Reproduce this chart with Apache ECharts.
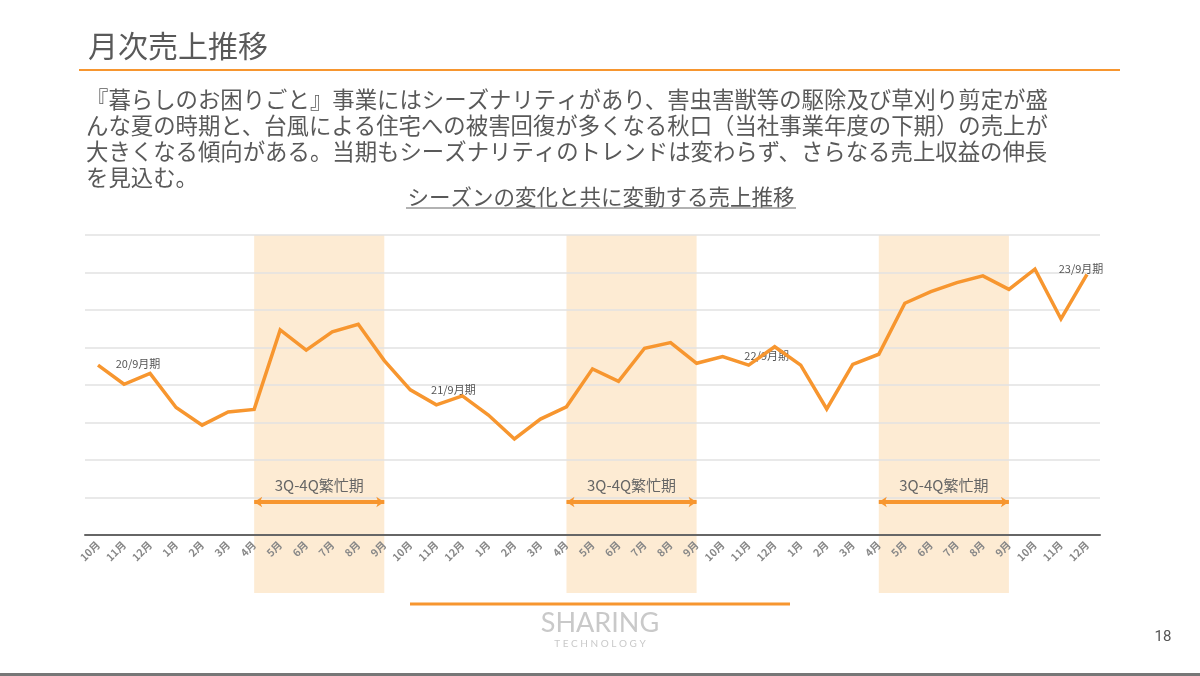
<!DOCTYPE html>
<html>
<head>
    <meta charset="utf-8">
    <title>月次売上推移</title>
    <script src="https://cdn.jsdelivr.net/npm/echarts@6/dist/echarts.min.js"></script>
    <style>
        html, body { margin: 0; padding: 0; background: #fff; }
    </style>
</head>
<body>
    <div id="main" style="width: 1200px; height: 676px;"></div>

    <script>
        // 月ラベル（2019/10〜2022/12）
        var months = [
            '10月', '11月', '12月', '1月', '2月', '3月', '4月', '5月', '6月', '7月', '8月', '9月',
            '10月', '11月', '12月', '1月', '2月', '3月', '4月', '5月', '6月', '7月', '8月', '9月',
            '10月', '11月', '12月', '1月', '2月', '3月', '4月', '5月', '6月', '7月', '8月', '9月',
            '10月', '11月', '12月'
        ];

        // 月次売上（目盛なしの相対値、図から読み取り）
        var sales = [
            4.53, 4.02, 4.31, 3.40, 2.93, 3.28, 3.35, 5.47, 4.93, 5.42, 5.62, 4.65,
            3.87, 3.47, 3.71, 3.20, 2.56, 3.09, 3.42, 4.43, 4.10, 4.98, 5.13, 4.58,
            4.76, 4.53, 5.02, 4.53, 3.36, 4.55, 4.82, 6.18, 6.49, 6.73, 6.91, 6.55,
            7.09, 5.76, 6.95
        ];

        // 繁忙期（4月〜9月）の開始・終了インデックス
        var busyStart = [6, 18, 30];
        var busyEnd = [11, 23, 35];
        var busyLabel = '3Q-4Q繁忙期';

        // 期ラベル
        var periodNames = ['20/9月期', '21/9月期', '22/9月期', '23/9月期'];
        var periodIndex = [1, 14, 26, 38];
        var periodValue = [4.56, 3.87, 4.77, 7.09];

        var bodyText = [
            '『暮らしのお困りごと』事業にはシーズナリティがあり、害虫害獣等の駆除及び草刈り剪定が盛',
            'んな夏の時期と、台風による住宅への被害回復が多くなる秋口（当社事業年度の下期）の売上が',
            '大きくなる傾向がある。当期もシーズナリティのトレンドは変わらず、さらなる売上収益の伸長',
            'を見込む。'
        ];

        var myChart = echarts.init(document.getElementById('main'));

        var orange = '#F7962F';
        var textColor = '#595959';
        var font = '"Noto Sans CJK JP", "Noto Sans", sans-serif';

        var periodOffsets = [[14, 0], [-9, 0], [-8, 0], [-6, 0]];

        var option = {
            animation: false,
            backgroundColor: '#fff',
            textStyle: { fontFamily: font },
            grid: [
                { left: 85, right: 100, top: 235, bottom: 141 },
                { left: 85, right: 100, top: 235, bottom: 83 }
            ],
            xAxis: [
                {
                    type: 'category',
                    gridIndex: 0,
                    data: months,
                    boundaryGap: true,
                    z: 3,
                    axisLine: { lineStyle: { color: '#666', width: 2 } },
                    axisTick: { alignWithLabel: true, length: 5, lineStyle: { color: '#999' } },
                    axisLabel: {
                        interval: 0,
                        rotate: 45,
                        fontSize: 10.5,
                        color: '#888',
                        fontWeight: 'bold',
                        margin: 8,
                        fontFamily: font
                    }
                },
                {
                    type: 'category',
                    gridIndex: 1,
                    data: months,
                    boundaryGap: true,
                    show: false
                }
            ],
            yAxis: [
                {
                    type: 'value',
                    gridIndex: 0,
                    min: 0,
                    max: 8,
                    interval: 1,
                    z: 3,
                    axisLine: { show: false },
                    axisTick: { show: false },
                    axisLabel: { show: false },
                    splitLine: { lineStyle: { color: '#e2e2e2', width: 1.5 } }
                },
                {
                    type: 'value',
                    gridIndex: 1,
                    min: 0,
                    max: 1,
                    show: false,
                    splitLine: { show: false }
                }
            ],
            series: [
                {
                    // 繁忙期の背景帯
                    type: 'line',
                    xAxisIndex: 1,
                    yAxisIndex: 1,
                    data: [],
                    z: 1,
                    silent: true,
                    markArea: {
                        silent: true,
                        z: 1,
                        itemStyle: { color: '#FDEBD3' },
                        data: busyStart.map(function (s, i) {
                            return [{ xAxis: s }, { xAxis: busyEnd[i] }];
                        })
                    }
                },
                {
                    name: '月次売上',
                    type: 'line',
                    data: sales,
                    z: 5,
                    symbol: 'none',
                    lineStyle: { color: orange, width: 3.5, join: 'miter' },
                    markLine: {
                        silent: true,
                        symbol: ['arrow', 'arrow'],
                        symbolSize: [8, 8],
                        lineStyle: { color: orange, width: 4, type: 'solid' },
                        label: {
                            show: true,
                            position: 'insideMiddleTop',
                            formatter: busyLabel,
                            color: '#666',
                            fontSize: 15,
                            distance: 9,
                            fontFamily: font
                        },
                        data: busyStart.map(function (s, i) {
                            return [{ coord: [s, 0.88] }, { coord: [busyEnd[i], 0.88] }];
                        })
                    },
                    markPoint: {
                        silent: true,
                        symbol: 'circle',
                        symbolSize: 1,
                        itemStyle: { color: 'rgba(0,0,0,0)' },
                        label: {
                            show: true,
                            position: 'inside',
                            formatter: '{b}',
                            color: '#555',
                            fontSize: 11,
                            fontFamily: font
                        },
                        data: periodNames.map(function (n, i) {
                            return {
                                name: n,
                                coord: [periodIndex[i], periodValue[i]],
                                label: { offset: periodOffsets[i] }
                            };
                        })
                    }
                }
            ],
            graphic: [
                {
                    type: 'text',
                    left: 88,
                    top: 31,
                    style: { text: '月次売上推移', fontSize: 30, fill: textColor, fontFamily: font }
                },
                {
                    type: 'line',
                    shape: { x1: 79, y1: 70, x2: 1120, y2: 70 },
                    style: { stroke: orange, lineWidth: 2 }
                },
                {
                    type: 'text',
                    left: 86,
                    top: 86,
                    style: {
                        text: bodyText.join('\n'),
                        fontSize: 22.4,
                        lineHeight: 26,
                        fill: textColor,
                        fontFamily: font
                    }
                },
                {
                    type: 'text',
                    x: 601,
                    y: 197,
                    style: {
                        text: 'シーズンの変化と共に変動する売上推移',
                        fontSize: 21.5,
                        fill: textColor,
                        align: 'center',
                        verticalAlign: 'middle',
                        fontFamily: font
                    }
                },
                {
                    type: 'line',
                    shape: { x1: 406, y1: 208, x2: 796, y2: 208 },
                    style: { stroke: '#666', lineWidth: 1.2 }
                },
                {
                    type: 'line',
                    shape: { x1: 410, y1: 604, x2: 790, y2: 604 },
                    style: { stroke: orange, lineWidth: 3 }
                },
                {
                    type: 'text',
                    x: 600,
                    y: 623,
                    style: {
                        text: 'SHARING',
                        fontSize: 27,
                        fill: '#c9c9c9',
                        align: 'center',
                        verticalAlign: 'middle',
                        fontFamily: 'Lato, sans-serif'
                    }
                },
                {
                    type: 'text',
                    x: 600,
                    y: 644,
                    style: {
                        text: 'T E C H N O L O G Y',
                        fontSize: 10,
                        fill: '#c9c9c9',
                        align: 'center',
                        verticalAlign: 'middle',
                        fontFamily: 'Lato, sans-serif'
                    }
                },
                {
                    type: 'text',
                    x: 1163,
                    y: 637,
                    style: {
                        text: '18',
                        fontSize: 15,
                        fill: '#555',
                        align: 'center',
                        verticalAlign: 'middle',
                        fontFamily: 'Roboto, sans-serif'
                    }
                },
                {
                    type: 'rect',
                    shape: { x: 0, y: 673, width: 1200, height: 3 },
                    style: { fill: '#777' }
                }
            ]
        };

        myChart.setOption(option);
    </script>
</body>
</html>
